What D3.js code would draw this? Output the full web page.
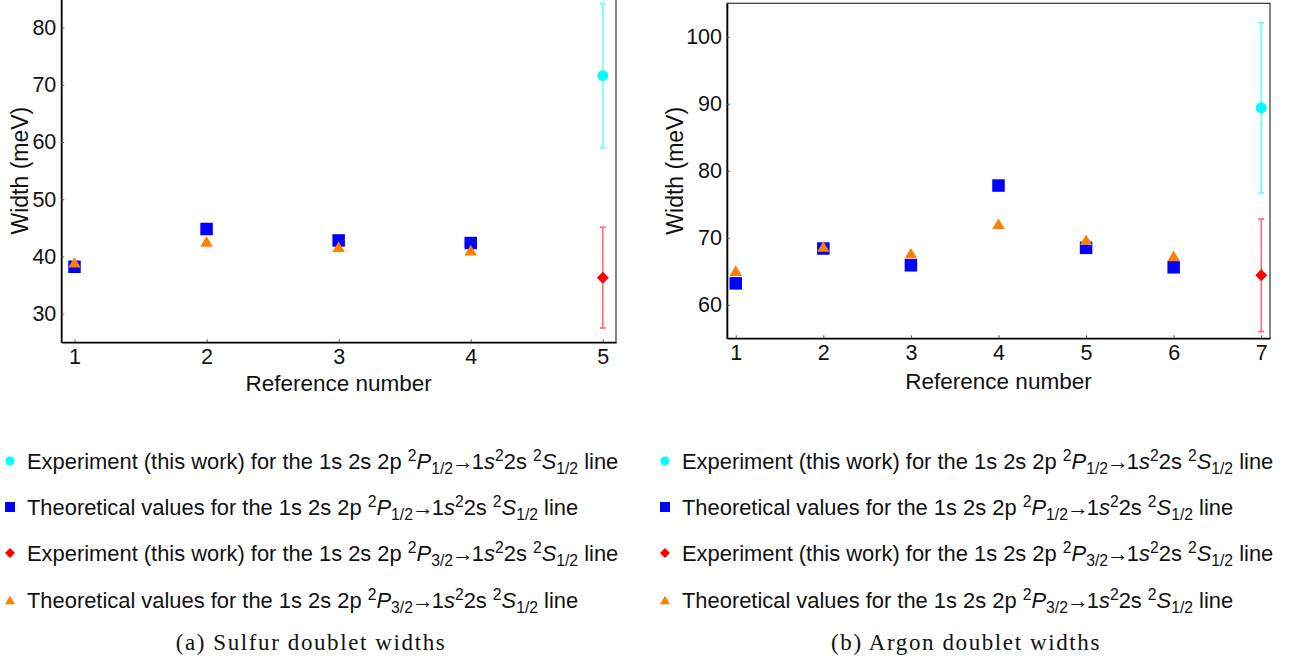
<!DOCTYPE html>
<html><head><meta charset="utf-8">
<script src="https://cdn.jsdelivr.net/npm/d3@7"></script>
<style>body{margin:0;background:#fff}svg{display:block}</style>
</head><body><svg id="c" width="1297" height="662"></svg>
<script>
// ---------- data ----------
const sulfurTheoryRefs = [1, 2, 3, 4];
const sulfurTheoryP12 = [38.2, 44.8, 42.8, 42.35];
const sulfurTheoryP32 = [39.0, 42.65, 41.7, 41.1];
const sulfurExpRef = [5];
const sulfurExpP12 = [71.6];
const sulfurExpP12Err = [12.6];
const sulfurExpP32 = [36.3];
const sulfurExpP32Err = [8.8];
const sulfurXTicks = [1, 2, 3, 4, 5];
const sulfurYTicks = [30, 40, 50, 60, 70, 80];

const argonTheoryRefs = [1, 2, 3, 4, 5, 6];
const argonTheoryP12 = [63.2, 68.4, 65.9, 77.8, 68.5, 65.6];
const argonTheoryP32 = [65.1, 68.7, 67.7, 72.1, 69.7, 67.3];
const argonExpRef = [7];
const argonExpP12 = [89.4];
const argonExpP12Err = [12.7];
const argonExpP32 = [64.4];
const argonExpP32Err = [8.4];
const argonXTicks = [1, 2, 3, 4, 5, 6, 7];
const argonYTicks = [60, 70, 80, 90, 100];

const xTitle = "Reference number";
const yTitle = "Width (meV)";
const legendPrefixes = [
  "Experiment (this work) for the 1s 2s 2p ",
  "Theoretical values for the 1s 2s 2p ",
  "Experiment (this work) for the 1s 2s 2p ",
  "Theoretical values for the 1s 2s 2p "
];
const legendJ = ["1/2", "1/2", "3/2", "3/2"];
const captions = ["(a) Sulfur doublet widths", "(b) Argon doublet widths"];

// ---------- styles ----------
const C = {cyan: "#00ffff", cyanBar: "#66ffff", blue: "#0000ff", red: "#ff0000", redBar: "#ff7070", orange: "#ff8000"};
const SANS = "'Liberation Sans', Arial, sans-serif";
const SERIF = "'Liberation Serif', 'DejaVu Serif', serif";

const svg = d3.select("#c");
svg.append("rect").attr("width", 1297).attr("height", 662).attr("fill", "#fff");

function marker(g, type, cx, cy, s, color) {
  if (type === "circle") {
    g.append("circle").attr("cx", cx).attr("cy", cy).attr("r", s / 2).attr("fill", color);
  } else if (type === "square") {
    g.append("rect").attr("x", cx - s / 2).attr("y", cy - s / 2).attr("width", s).attr("height", s).attr("fill", color);
  } else if (type === "diamond") {
    const h = s / 2;
    g.append("path").attr("d", `M${cx},${cy - h}L${cx + h},${cy}L${cx},${cy + h}L${cx - h},${cy}Z`).attr("fill", color);
  } else if (type === "triangle") {
    const w = s / 2, hh = s * 0.85 / 2;
    g.append("path").attr("d", `M${cx},${cy - hh}L${cx + w},${cy + hh}L${cx - w},${cy + hh}Z`).attr("fill", color);
  }
}

function panel(cfg) {
  const g = svg.append("g");
  const x = d3.scaleLinear().domain(cfg.xDomain).range([cfg.left, cfg.right]);
  const y = d3.scaleLinear().domain(cfg.yDomain).range([cfg.bottom, cfg.top]);

  // frame
  g.append("rect").attr("x", cfg.left).attr("y", cfg.top)
    .attr("width", cfg.right - cfg.left).attr("height", cfg.bottom - cfg.top)
    .attr("fill", "none").attr("stroke", "#333").attr("stroke-width", 1.2);

  const xa = g.append("g").attr("transform", `translate(0,${cfg.bottom})`)
    .call(d3.axisBottom(x).tickValues(cfg.xTicks).tickSizeInner(-3).tickSizeOuter(0).tickPadding(6).tickFormat(d3.format("d")));
  const ya = g.append("g").attr("transform", `translate(${cfg.left},0)`)
    .call(d3.axisLeft(y).tickValues(cfg.yTicks).tickSizeInner(-3).tickSizeOuter(0).tickPadding(5).tickFormat(d3.format("d")));
  [xa, ya].forEach(a => {
    a.select(".domain").attr("stroke", "#000").attr("stroke-width", 1.6);
    a.selectAll(".tick line").attr("stroke", "#555").attr("stroke-width", 1);
    a.selectAll(".tick text").attr("font-family", SANS).attr("font-size", 21.5).attr("fill", "#111");
  });

  // axis titles
  g.append("text").attr("x", (cfg.left + cfg.right) / 2).attr("y", cfg.xTitleY)
    .attr("text-anchor", "middle").attr("font-family", SANS).attr("font-size", 22.5).attr("fill", "#111").text(xTitle);
  g.append("text").attr("transform", `translate(${cfg.yTitleX},${(cfg.top + cfg.bottom) / 2}) rotate(-90)`)
    .attr("text-anchor", "middle").attr("font-family", SANS).attr("font-size", 23).attr("fill", "#111").text(yTitle);

  // theory points
  cfg.theoryRefs.forEach((r, i) => marker(g, "square", x(r), y(cfg.p12[i]), 12.5, C.blue));
  cfg.theoryRefs.forEach((r, i) => marker(g, "triangle", x(r), y(cfg.p32[i]), 12.5, C.orange));

  // experiment with error bars
  function expPoint(ref, v, e, barColor, type, color, s) {
    const cx = x(ref);
    g.append("line").attr("x1", cx).attr("x2", cx).attr("y1", y(v - e)).attr("y2", y(v + e))
      .attr("stroke", barColor).attr("stroke-width", 1.6);
    [v - e, v + e].forEach(t => g.append("line").attr("x1", cx - 3).attr("x2", cx + 3)
      .attr("y1", y(t)).attr("y2", y(t)).attr("stroke", barColor).attr("stroke-width", 1.8));
    marker(g, type, cx, y(v), s, color);
  }
  cfg.expRef.forEach((r, i) => expPoint(r, cfg.e12[i], cfg.e12Err[i], C.cyanBar, "circle", C.cyan, 11));
  cfg.expRef.forEach((r, i) => expPoint(r, cfg.e32[i], cfg.e32Err[i], C.redBar, "diamond", C.red, 12));

  // legend
  const types = ["circle", "square", "diamond", "triangle"];
  const colors = [C.cyan, C.blue, C.red, C.orange];
  const rows = [461, 507, 553, 600];
  rows.forEach((ry, i) => {
    marker(g, types[i], cfg.legendX + 1, ry, types[i] === "circle" ? 9 : 10, colors[i]);
    const t = g.append("text").attr("x", cfg.legendX + 18).attr("y", ry + 7.5)
      .attr("font-family", SANS).attr("font-size", 21.9).attr("fill", "#111");
    const segs = [
      {t: legendPrefixes[i], k: "n"}, {t: "2", k: "sup"}, {t: "P", k: "i"}, {t: legendJ[i], k: "sub"},
      {t: "\u2192", k: "arrow"}, {t: "1", k: "n", dx: -2}, {t: "s", k: "i"}, {t: "2", k: "sup"}, {t: "2s ", k: "n"},
      {t: "2", k: "sup"}, {t: "S", k: "i"}, {t: "1/2", k: "sub"}, {t: " line", k: "n"}
    ];
    let cur = 0;
    segs.forEach(sg => {
      const off = sg.k === "sup" ? -8 : sg.k === "sub" ? 5.5 : 0;
      const ts = t.append("tspan").attr("dy", off - cur).text(sg.t);
      cur = off;
      if (sg.k === "sup" || sg.k === "sub") ts.attr("font-size", 15.7);
      if (sg.k === "i") ts.attr("font-style", "italic");
      if (sg.k === "arrow") ts.attr("dx", -1);
      if (sg.dx) ts.attr("dx", sg.dx);
    });
  });

  // caption
  g.append("text").attr("x", cfg.captionX).attr("y", 650).attr("text-anchor", "middle")
    .attr("font-family", SERIF).attr("font-size", 23).attr("letter-spacing", 1.6).attr("fill", "#111").text(cfg.caption);
}

panel({
  left: 61.3, right: 616, top: -1, bottom: 342.3,
  xDomain: [0.9, 5.1], yDomain: [25, 85],
  xTicks: sulfurXTicks, yTicks: sulfurYTicks, yTitleX: 28, xTitleY: 391,
  theoryRefs: sulfurTheoryRefs, p12: sulfurTheoryP12, p32: sulfurTheoryP32,
  expRef: sulfurExpRef, e12: sulfurExpP12, e12Err: sulfurExpP12Err, e32: sulfurExpP32, e32Err: sulfurExpP32Err,
  legendX: 9, captionX: 311, caption: captions[0]
});
panel({
  left: 727, right: 1270, top: 3.3, bottom: 338.3,
  xDomain: [0.9, 7.1], yDomain: [55, 105],
  xTicks: argonXTicks, yTicks: argonYTicks, yTitleX: 683, xTitleY: 389,
  theoryRefs: argonTheoryRefs, p12: argonTheoryP12, p32: argonTheoryP32,
  expRef: argonExpRef, e12: argonExpP12, e12Err: argonExpP12Err, e32: argonExpP32, e32Err: argonExpP32Err,
  legendX: 664, captionX: 966, caption: captions[1]
});
</script></body></html>
